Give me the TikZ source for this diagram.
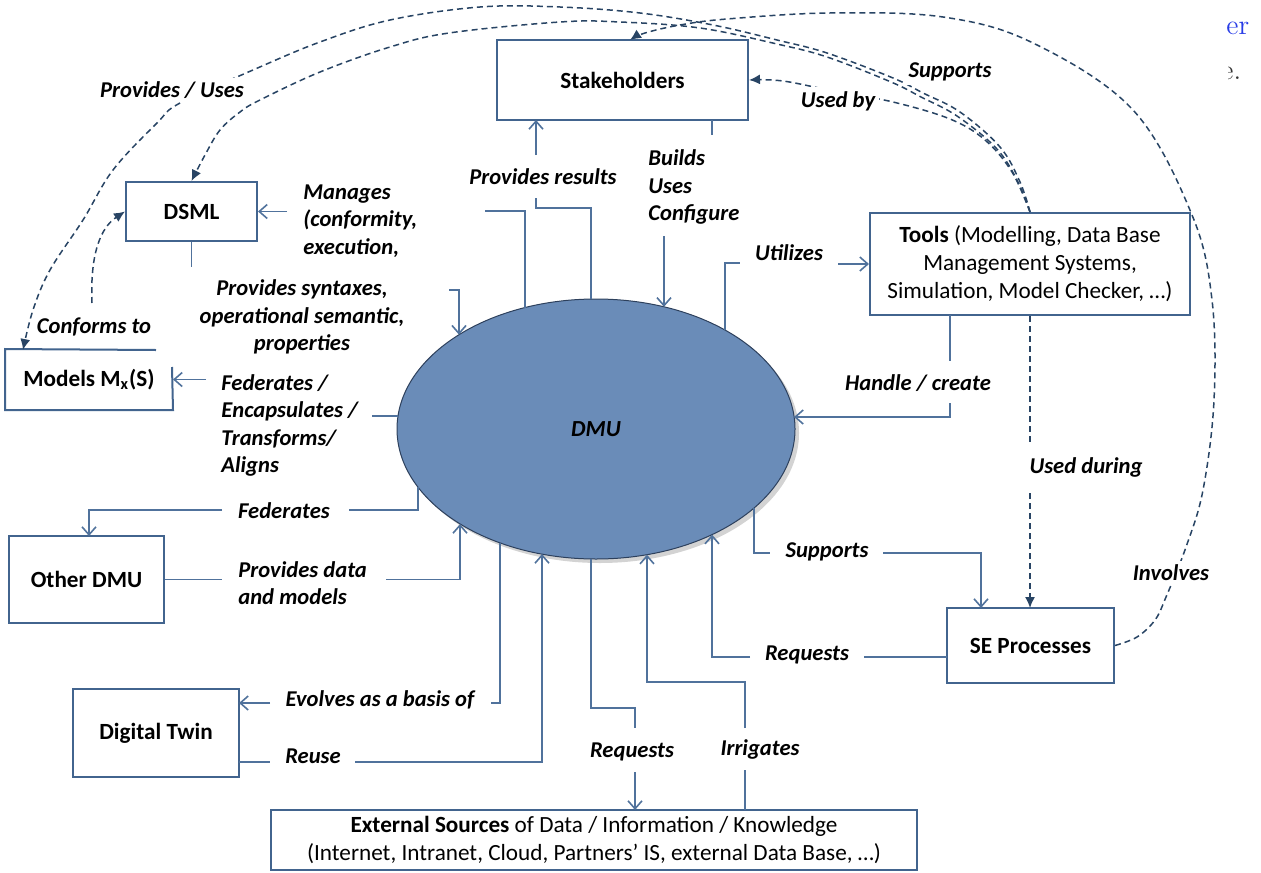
\documentclass[tikz,border=0pt]{standalone}
\usepackage{fontspec}
\newfontfamily\carl{Carlito}
\usetikzlibrary{shapes.geometric,arrows.meta,shadows}
\definecolor{lc}{RGB}{80,114,156}
\definecolor{bc}{RGB}{66,100,142}
\definecolor{dc}{RGB}{40,68,100}
\definecolor{ef}{RGB}{106,140,184}
\definecolor{eb}{RGB}{45,64,92}
\definecolor{artblue}{RGB}{40,60,230}
\begin{document}
\begin{tikzpicture}[x=0.5pt,y=-0.5pt,
  lab/.style={font=\carl\fontsize{11.3}{13.7}\selectfont\bfseries\itshape, inner sep=0pt, text=black},
  wl/.style={lab, fill=white, inner sep=2pt},
  box/.style={draw=bc, line width=1pt, fill=white, font=\carl\fontsize{11.6}{14}\selectfont\bfseries, align=center, inner sep=2pt},
  conn/.style={draw=lc, line width=0.8pt},
  arr/.style={conn, -{Straight Barb[length=4pt,width=7pt]}},
  dsh/.style={draw=dc, line width=0.75pt, dash pattern=on 3pt off 2pt},
  darr/.style={dsh, -{Latex[length=5.5pt,width=5pt]}},
]
\useasboundingbox (0,0) rectangle (1261,872);

% boxes
\node[box, minimum width=125.5pt, minimum height=40pt] (stake) at (622.5,80) {Stakeholders};
\node[box, minimum width=65.5pt, minimum height=29.5pt] (dsml) at (191.5,211.5) {DSML};
\node[box, draw=none, minimum width=83pt, minimum height=29.5pt] (models) at (89,379.5) {Models M\textsubscript{x}(S)};
\draw[bc, line width=1pt] (156,350) -- (models.north west) -- (models.south west) -- (models.south east) -- (172,367);
\node[box, minimum width=77.5pt, minimum height=43.5pt] (other) at (86.5,579.5) {Other DMU};
\node[box, minimum width=83pt, minimum height=44pt] (dt) at (156,733) {Digital Twin};
\node[box, minimum width=83.5pt, minimum height=37.5pt] (se) at (1030.5,645.5) {SE Processes};
\node[box, minimum width=160pt, minimum height=51pt, font=\carl\fontsize{11.6}{14}\selectfont] (tools) at (1030,264)
  {\textbf{Tools} (Modelling, Data Base\\Management Systems,\\Simulation, Model Checker, …)};
\node[box, minimum width=323pt, minimum height=30pt, font=\carl\fontsize{11.6}{14}\selectfont] (ext) at (594,840)
  {\textbf{External Sources} of Data / Information / Knowledge\\(Internet, Intranet, Cloud, Partners’ IS, external Data Base, …)};

% central ellipse
\node[ellipse, minimum width=199pt, minimum height=130pt, inner sep=0pt, fill=ef, draw=eb, line width=0.5pt,
  drop shadow={shadow xshift=2pt, shadow yshift=-2pt, opacity=0.35},
  font=\carl\fontsize{11.5}{13}\selectfont\bfseries\itshape] (dmu) at (596,429) {DMU};

% points on the ellipse border
\coordinate (t591) at (591,299);
\coordinate (t525) at (525,307.6);
\coordinate (t459) at (459,334.7);
\coordinate (t664) at (664,306.8);
\coordinate (t725) at (725,330);
\coordinate (rE) at (794,417);
\coordinate (lW) at (398,416);
\coordinate (b418) at (418,487);
\coordinate (b460) at (460,524);
\coordinate (b500) at (500,543);
\coordinate (b542) at (542,554);
\coordinate (b591) at (591,559);
\coordinate (b647) at (647,554.7);
\coordinate (b712) at (712,534.6);
\coordinate (b754) at (754,508);

% solid connectors
\draw[conn] (t591) -- (591,208) -- (536,208) -- (536,198);
\draw[arr] (536,155) -- (536,120);
\draw[conn] (712,120) -- (712,135);
\draw[arr] (664,236) -- (t664);
\draw[conn] (t525) -- (525,211) -- (485,211);
\draw[arr] (287,211.5) -- (dsml.east);
\draw[conn] (dsml.south) -- (191.5,267);
\draw[arr] (449,290) -- (459,290) -- (t459);
\draw[conn] (lW) -- (372,416);
\draw[arr] (206,379.5) -- (models.east);
\draw[conn] (t725) -- (725,263) -- (740,263);
\draw[arr] (838,264) -- (tools.west);
\draw[conn] (950,315) -- (950,361);
\draw[arr] (950,403) -- (950,417) -- (rE);
\draw[conn] (b418) -- (418,510) -- (349,510);
\draw[arr] (222,510) -- (89,510) -- (89,536);
\draw[conn] (other.east) -- (222,579.5);
\draw[arr] (386,579.5) -- (460,579.5) -- (b460);
\draw[arr] (270,703) -- (239,703);
\draw[conn] (491,703) -- (500,703) -- (b500);
\draw[conn] (239,762) -- (270,762);
\draw[arr] (355,762) -- (542,762) -- (b542);
\draw[conn] (b591) -- (591,708) -- (635,708) -- (635,728);
\draw[arr] (635,772) -- (635,810);
\draw[conn] (745,810) -- (745,770);
\draw[arr] (745,728) -- (745,682) -- (647,682) -- (b647);
\draw[conn] (947,657) -- (864,657);
\draw[arr] (750,657) -- (712,657) -- (b712);
\draw[conn] (b754) -- (754,553) -- (770,553);
\draw[arr] (883,553) -- (981,553) -- (981,608);

% dashed connectors
\draw[dsh] (tools.south) -- (1030,443);
\draw[darr] (1030,493) -- (1030,608);
\draw[darr] (92,303) .. controls (90,255) and (100,228) .. (dsml.west);
\draw[darr] plot[smooth, tension=0.6] coordinates {(tools.north) (1020,182) (1000,147) (960,112) (923,93) (893,78) (827,53) (777,40) (713,25) (640,13) (560,7) (480,7) (390,20) (320,42) (253,70) (180,103) (157,123) (113,170) (83,220) (50,270) (33,310) (23,350)};
\draw[darr] plot[smooth, tension=0.6] coordinates {(tools.north) (1017,180) (996,148) (957,116) (921,97) (891,82) (827,57) (777,44) (700,28) (620,22) (560,22) (449,33) (390,47) (320,72) (260,100) (240,112) (220,130) (205,155) (dsml.north)};
\draw[darr] plot[smooth, tension=0.6] coordinates {(tools.north) (1012,172) (985,140) (950,119) (893,102) (838,92) (783,81) (stake.east)};
\draw[darr] plot[smooth, tension=0.6] coordinates {(se.east) (1137,637) (1155,620) (1166,597) (1186,547) (1203,490) (1214,400) (1212,300) (1192,215) (1133,110) (1033,43) (943,17) (830,13) (727,19) (680,25) (645,33) (630,40)};

% labels
\node[wl] (lPU) at (172,90) {Provides / Uses};
\node[wl] (lSup) at (950,72) {Supports};
\node[wl] (lUB) at (838,101) {Used by};
\node[wl] (lInv) at (1171,573) {Involves};
\node[lab] (lPR) at (543,177) {Provides results};
\node[lab, align=left, anchor=west] (lBUC) at (648,187) {Builds\\Uses\\Configure};
\node[lab, align=left, anchor=west] (lMan) at (303,221) {Manages\\(conformity,\\execution,};
\node[lab, align=center] (lPS) at (302,317) {Provides syntaxes,\\operational semantic,\\properties};
\node[lab, align=left, anchor=west] (lFed) at (221,425.5) {Federates /\\Encapsulates /\\Transforms/\\Aligns};
\node[lab] (lConf) at (94,327) {Conforms to};
\node[lab] (lUt) at (789,253) {Utilizes};
\node[lab] (lHC) at (918,383) {Handle / create};
\node[lab] (lUD) at (1086,467) {Used during};
\node[lab] (lFd) at (284,511) {Federates};
\node[lab, align=left, anchor=west] (lPD) at (238,583) {Provides data\\and models};
\node[lab] (lEv) at (380,700) {Evolves as a basis of};
\node[lab] (lRe) at (313,756) {Reuse};
\node[lab] (lRq1) at (632,752) {Requests};
\node[lab] (lIr) at (760,749) {Irrigates};
\node[lab] (lRq2) at (807,655) {Requests};
\node[lab] (lSu2) at (827,552) {Supports};

% cropped page text at top right
\node[anchor=base west, inner sep=0pt, text=artblue, font=\fontsize{14}{14}\selectfont] (art1) at (1226,35) {er};
\begin{scope}
  \clip (1228,55) rectangle (1261,90);
  \node[anchor=base west, inner sep=0pt, text=black!80, font=\fontsize{14}{14}\selectfont] (art2) at (1221,80) {e.};
\end{scope}
\end{tikzpicture}
\end{document}
